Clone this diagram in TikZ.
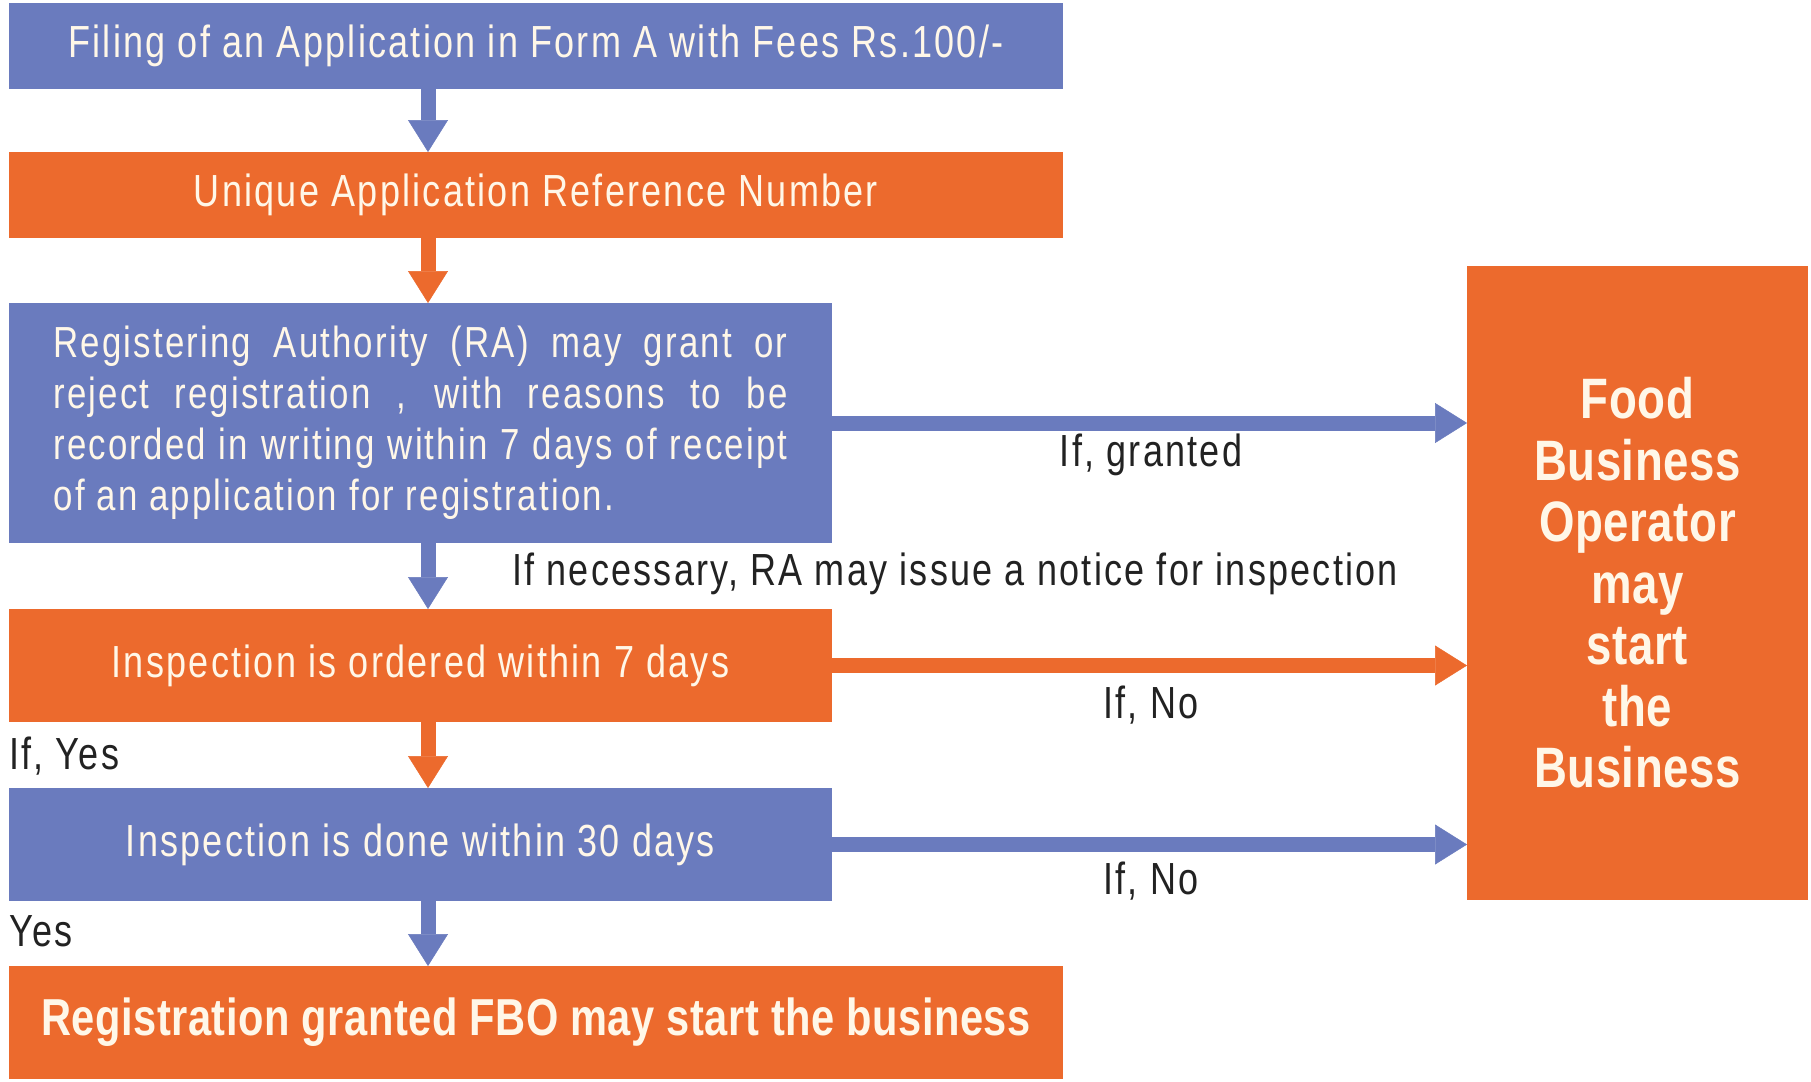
\documentclass[tikz,border=0pt]{standalone}
\usepackage{fontspec}
\setmainfont{Liberation Sans}[FakeStretch=0.8, LetterSpace=5]
\newfontfamily\boldcn{Liberation Sans}[FakeStretch=0.8, LetterSpace=1]
\usetikzlibrary{arrows.meta}
\definecolor{cblue}{HTML}{6A7BBE}
\definecolor{corange}{HTML}{EC6A2D}
\definecolor{ctext}{HTML}{FFF7E8}
\definecolor{clabel}{HTML}{222222}
\begin{document}
\begin{tikzpicture}[x=1pt,y=-1pt,
  box/.style={inner sep=0pt, outer sep=0pt, text=ctext, anchor=north west,
              font=\fontsize{45}{52}\selectfont},
  bluebox/.style={box, fill=cblue},
  orangebox/.style={box, fill=corange},
  lbl/.style={inner sep=0pt, text=clabel, font=\fontsize{45}{52}\selectfont},
  conn/.style={line width=15pt, -{Triangle[length=32pt,width=40pt,line width=0.5pt]}},
  bconn/.style={conn, draw=cblue},
  oconn/.style={conn, draw=corange}]
\useasboundingbox (0,0) rectangle (1811,1081);
\fill[white] (0,0) rectangle (1811,1081);

\node[bluebox, minimum width=1054pt, minimum height=86pt] (b1) at (9,3)
  {Filing of an Application in Form A with Fees Rs.100/-};
\node[orangebox, minimum width=1054pt, minimum height=86pt] (b2) at (9,152)
  {Unique Application Reference Number};
\node[bluebox, minimum width=823pt, minimum height=240pt, align=left,
      font=\fontsize{43.5}{51}\selectfont] (b3) at (9,303)
  {\makebox[734pt][s]{Registering Authority (RA) may grant or}\\
   \makebox[734pt][s]{reject registration , with reasons to be}\\
   \makebox[734pt][s]{recorded in writing within 7 days of receipt}\\
   of an application for registration.};
\node[orangebox, minimum width=823pt, minimum height=113pt] (b4) at (9,609)
  {Inspection is ordered within 7 days};
\node[bluebox, minimum width=823pt, minimum height=113pt] (b5) at (9,788)
  {Inspection is done within 30 days};
\node[orangebox, minimum width=1054pt, minimum height=113pt,
      font=\boldcn\bfseries\fontsize{52}{60}\selectfont] (b6) at (9,966)
  {Registration granted FBO may start the business};
\node[orangebox, minimum width=341pt, minimum height=634pt, align=center,
      font=\boldcn\bfseries\fontsize{57}{61.5}\selectfont] (fbo) at (1467,266)
  {Food\\Business\\Operator\\may\\start\\the\\Business};

\coordinate (ax) at (428,0);
\draw[bconn] (b1.south -| ax) -- (b2.north -| ax);
\draw[oconn] (b2.south -| ax) -- (b3.north -| ax);
\draw[bconn] (b3.south -| ax) -- (b4.north -| ax);
\draw[oconn] (b4.south -| ax) -- (b5.north -| ax);
\draw[bconn] (b5.south -| ax) -- (b6.north -| ax);

\draw[bconn] (b3.east) -- (b3.east -| fbo.west);
\draw[oconn] (b4.east) -- (b4.east -| fbo.west);
\draw[bconn] (b5.east) -- (b5.east -| fbo.west);

\node[lbl] (lgranted) at (1151,455) {If, granted};
\node[lbl] (lnotice) at (955,574) {If necessary, RA may issue a notice for inspection};
\node[lbl] (lno1) at (1151,705) {If, No};
\node[lbl] (lno2) at (1151,881) {If, No};
\node[lbl, anchor=west] (lyes1) at (9,756) {If, Yes};
\node[lbl, anchor=west] (lyes2) at (9,931) {Yes};
\end{tikzpicture}
\end{document}
